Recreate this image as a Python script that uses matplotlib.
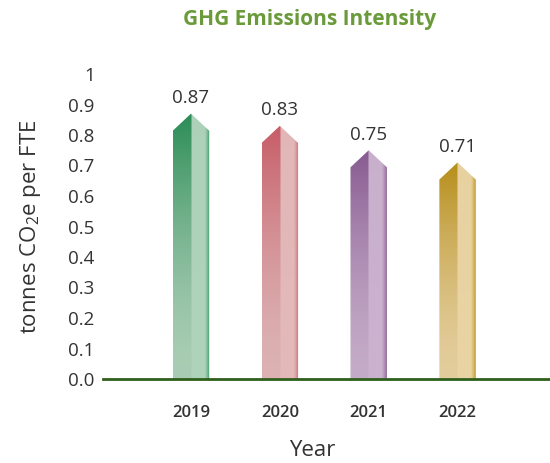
"""
GHG emissions intensity per FTE, 2019-2022 -- pointed gradient columns.
"""

import numpy as np
import matplotlib.pyplot as plt
from matplotlib.patches import Polygon
from matplotlib.colors import to_rgb

plt.rcParams.update({
    'font.family': ['Open Sans', 'DejaVu Sans'],
    'mathtext.default': 'regular',
    'text.color': '#333333',
    'axes.labelcolor': '#333333',
    'xtick.color': '#333333',
    'ytick.color': '#333333',
})

# ── data ─────────────────────────────────────────────
years = ["2019", "2020", "2021", "2022"]
intensity = [0.87, 0.83, 0.75, 0.71]
y_ticks = [0.0, 0.1, 0.2, 0.3, 0.4, 0.5, 0.6, 0.7, 0.8, 0.9, 1.0]
y_tick_labels = ["0.0", "0.1", "0.2", "0.3", "0.4", "0.5", "0.6", "0.7", "0.8", "0.9", "1"]

# (dark top, light body, right edge)
palette = [
    ("#2b8c56", "#a9cdb4", "#3e9a66"),
    ("#c75c67", "#dcb2b3", "#d06a74"),
    ("#875a91", "#c4abc7", "#95699d"),
    ("#b68e1a", "#e3cd9c", "#c29c2c"),
]

BAR_W = 0.41
SHOULDER = 0.056


def gradient_bar(ax, c, v, dark, light, edge):
    dark, light, edge = (np.array(to_rgb(k)) for k in (dark, light, edge))
    ny, nx = 200, 80
    ys = np.linspace(0, 1, ny)[:, None]          # 0 bottom -> 1 top
    xs = np.linspace(0, 1, nx)[None, :]          # 0 left -> 1 right

    # left face: vertical gradient, dark at top
    t = ys ** 1.6
    left = light[None, None, :] * (1 - t[..., None]) + dark[None, None, :] * t[..., None]
    left = np.broadcast_to(left, (ny, nx, 3))

    # right face: light body, darker strip at the right edge
    s = np.clip((xs - 0.5) / 0.5, 0, 1)
    e = np.clip((s - 0.72) / 0.28, 0, 1) ** 1.3
    body = np.minimum(light + 0.025, 1)
    body = body[None, None, :] * (1 - 0.25 * t[..., None]) + light[None, None, :] * 0.25 * t[..., None]
    right = body * (1 - e[..., None]) + edge[None, None, :] * e[..., None]
    right = np.broadcast_to(right, (ny, nx, 3))

    img = np.where((xs < 0.5)[..., None], left, right)

    x0, x1 = c - BAR_W / 2, c + BAR_W / 2
    im = ax.imshow(img, extent=[x0, x1, 0, v], origin="lower",
                   aspect="auto", interpolation="bilinear", zorder=3)
    poly = Polygon([(x0, 0), (x0, v - SHOULDER), (c, v),
                    (x1, v - SHOULDER), (x1, 0)], closed=True,
                   transform=ax.transData, facecolor="none", edgecolor="none")
    ax.add_patch(poly)
    im.set_clip_path(poly)


fig = plt.figure(figsize=(5.5, 4.63), dpi=100)
ax = fig.add_axes([103 / 550, 84 / 463, 447 / 550, 305 / 463])

x = np.arange(len(years))
for i, (v, (dk, lt, ed)) in enumerate(zip(intensity, palette)):
    gradient_bar(ax, x[i], v, dk, lt, ed)
    ax.text(x[i], v + 0.022, f"{v:.2f}", ha="center", va="bottom",
            fontsize=13.5, color="#333333")

ax.set_xlim(-0.99, 4.04)
ax.set_ylim(0, 1.0)

ax.set_yticks(y_ticks)
ax.set_yticklabels(y_tick_labels, fontsize=13.5)
ax.set_xticks(x)
ax.set_xticklabels(years, fontsize=12, fontweight="semibold")
ax.tick_params(axis="y", length=0, pad=6)
ax.tick_params(axis="x", length=0, pad=19)

for side in ("top", "right", "left"):
    ax.spines[side].set_visible(False)
ax.spines["bottom"].set_color("#2f5f1c")
ax.spines["bottom"].set_linewidth(2)
ax.spines["bottom"].set_zorder(5)

ax.set_xlabel("Year", fontsize=16)
ax.xaxis.set_label_coords(0.468, -0.2)
ax.set_ylabel("tonnes CO$_2$e per FTE", fontsize=16)
ax.yaxis.set_label_coords(-0.135, 0.5)

fig.text(310 / 550, 1 - 20 / 463, "GHG Emissions Intensity", ha="center", va="center",
         fontsize=15, fontweight="bold", color="#6a9a3a")

fig.savefig("out.png", dpi=100, facecolor="white")
